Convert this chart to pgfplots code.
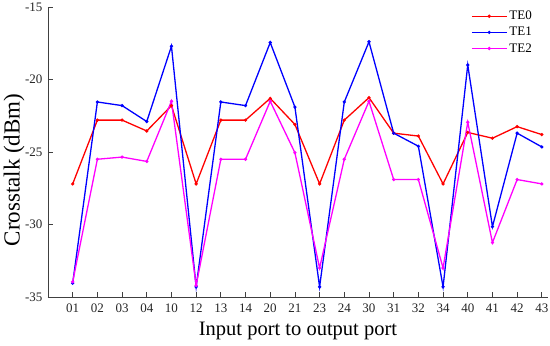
\documentclass[border=0pt]{standalone}
\usepackage{fontspec}
\setmainfont{Liberation Serif}
\usepackage{pgfplots}
\pgfplotsset{compat=1.18}
\usepackage{pgfplotstable}
\pgfplotstableread{
x te0 te1 te2
0 -27.2 -34.05 -33.95
1 -22.8 -21.55 -25.5
2 -22.8 -21.8 -25.35
3 -23.55 -22.9 -25.65
4 -21.8 -17.7 -21.5
5 -27.2 -34.3 -34.2
6 -22.8 -21.55 -25.5
7 -22.8 -21.8 -25.5
8 -21.3 -17.45 -21.5
9 -23.1 -21.9 -25.05
10 -27.2 -34.3 -33.0
11 -22.8 -21.55 -25.5
12 -21.25 -17.4 -21.5
13 -23.7 -23.7 -26.9
14 -23.9 -24.6 -26.9
15 -27.2 -34.3 -33.0
16 -23.65 -19.0 -22.95
17 -24.05 -30.15 -31.25
18 -23.25 -23.7 -26.9
19 -23.8 -24.65 -27.2
}\data
\definecolor{axisgray}{RGB}{64,64,64}
\definecolor{cred}{RGB}{255,0,0}
\definecolor{cblue}{RGB}{0,0,255}
\definecolor{cmag}{RGB}{255,0,255}
\begin{document}
\begin{tikzpicture}
\begin{axis}[
  at={(48pt,49pt)}, anchor=south west,
  scale only axis, width=500pt, height=290pt,
  xmin=-1, xmax=19.25, ymin=-35, ymax=-15,
  axis x line*=bottom, axis y line*=left,
  axis line style={axisgray, line width=0.8pt, -},
  xtick={0,...,19},
  xticklabels={01,02,03,04,10,12,13,14,20,21,23,24,30,31,32,34,40,41,42,43},
  ytick={-35,-30,-25,-20,-15},
  tick align=inside,
  major tick length=5pt,
  tick style={axisgray, line width=0.8pt},
  tick label style={font=\fontsize{13}{15}\selectfont, text=black!85},
  /pgf/number format/assume math mode=true,
  xticklabel style={yshift=-3pt},
  yticklabel style={xshift=-2pt},
  xlabel={Input port to output port},
  ylabel={Crosstalk (dBm)},
  xlabel style={font=\fontsize{20.5}{24}\selectfont, yshift=-3pt},
  every axis y label/.style={at={(axis description cs:-0.068,0.438)}, rotate=90, anchor=center,
    font=\fontsize{23}{27}\selectfont},
  legend style={draw=none, fill=none, at={(489pt,290pt)}, anchor=north east,
    font=\fontsize{13}{15}\selectfont, row sep=2pt,
    cells={anchor=west}},
  legend image code/.code={\draw[mark repeat=2,mark phase=2,#1] plot coordinates {(0pt,0pt) (17.5pt,0pt) (35pt,0pt)};},
]
\addplot[cred, line width=1.3pt, mark=*, mark size=0.9pt, mark options={fill=cred}] table[x=x,y=te0]{\data};
\addlegendentry{TE0}
\addplot[cblue, line width=1.3pt, mark=*, mark size=0.9pt, mark options={fill=cblue}] table[x=x,y=te1]{\data};
\addlegendentry{TE1}
\addplot[cmag, line width=1.3pt, mark=*, mark size=0.9pt, mark options={fill=cmag}] table[x=x,y=te2]{\data};
\addlegendentry{TE2}
\end{axis}
\pgfresetboundingbox
\useasboundingbox (0,0) rectangle (550pt,346pt);
\end{tikzpicture}
\end{document}
